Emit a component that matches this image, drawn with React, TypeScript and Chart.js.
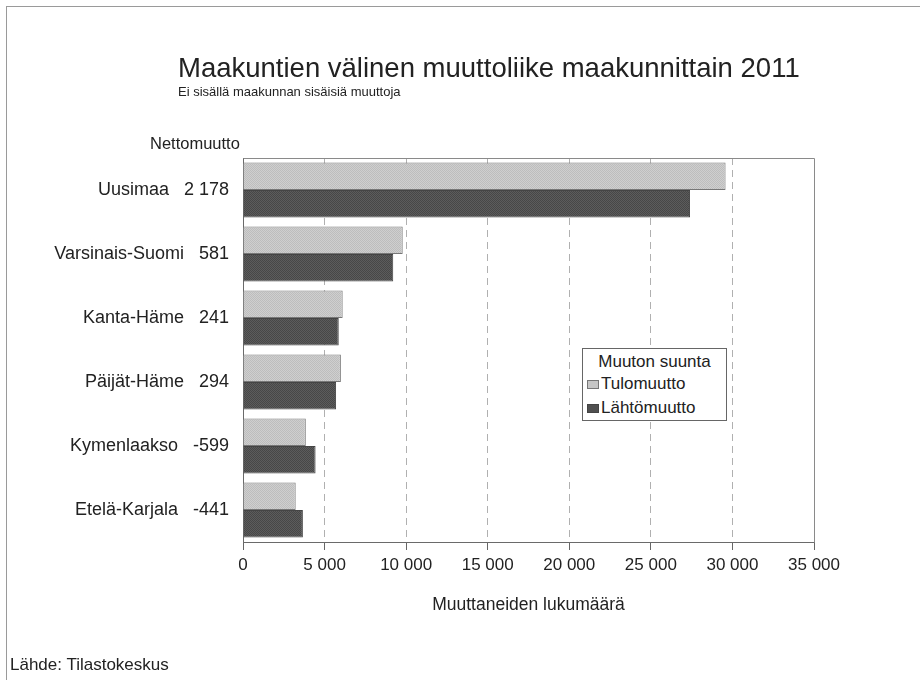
import React, { useEffect, useRef } from "react";
import { Chart, registerables } from "chart.js";

Chart.register(...registerables);

const categories = ["Uusimaa", "Varsinais-Suomi", "Kanta-Häme", "Päijät-Häme", "Kymenlaakso", "Etelä-Karjala"];
const netMigration = [2178, 581, 241, 294, -599, -441];
const inMigration = [29580, 9790, 6110, 6000, 3850, 3230];
const outMigration = [27402, 9209, 5869, 5706, 4449, 3671];
const seriesNames = ["Tulomuutto", "Lähtömuutto"];
const xMax = 35000;
const xStep = 5000;

const FONT = '"Liberation Sans", Arial, Helvetica, sans-serif';
const LIGHT = ["#cfcfcf", "#bdbdbd"];
const DARK = ["#5c5c5c", "#474747"];

function fmt(n: number): string {
  const s = Math.abs(n).toString().replace(/\B(?=(\d{3})+(?!\d))/g, " ");
  return (n < 0 ? "-" : "") + s;
}

function makePattern(colors: string[]): CanvasPattern | string {
  const c = document.createElement("canvas");
  c.width = 2;
  c.height = 2;
  const g = c.getContext("2d");
  if (!g) return colors[0];
  g.fillStyle = colors[0];
  g.fillRect(0, 0, 2, 2);
  g.fillStyle = colors[1];
  g.fillRect(0, 0, 1, 1);
  g.fillRect(1, 1, 1, 1);
  const p = g.createPattern(c, "repeat");
  return p || colors[0];
}

const frameBorder = {
  id: "frameBorder",
  afterDraw(chart: any) {
    const { ctx, chartArea } = chart;
    ctx.save();
    ctx.strokeStyle = "#8a8a8a";
    ctx.lineWidth = 1;
    ctx.beginPath();
    ctx.moveTo(Math.round(chartArea.left) + 0.5, Math.round(chartArea.top) + 0.5);
    ctx.lineTo(Math.round(chartArea.right) + 0.5, Math.round(chartArea.top) + 0.5);
    ctx.lineTo(Math.round(chartArea.right) + 0.5, Math.round(chartArea.bottom) + 0.5);
    ctx.stroke();
    ctx.restore();
  },
};

export default function App() {
  const ref = useRef<HTMLCanvasElement | null>(null);

  useEffect(() => {
    if (!ref.current) return;
    Chart.defaults.font.family = FONT;
    const labels = categories.map((c, i) => c + "   " + fmt(netMigration[i]));
    const chart = new Chart(ref.current, {
      type: "bar",
      data: {
        labels,
        datasets: [
          {
            label: seriesNames[0],
            data: inMigration,
            backgroundColor: makePattern(LIGHT) as any,
            borderColor: "#777777",
            borderWidth: 1,
            categoryPercentage: 0.86,
            barPercentage: 1,
          },
          {
            label: seriesNames[1],
            data: outMigration,
            backgroundColor: makePattern(DARK) as any,
            borderColor: "#444444",
            borderWidth: 1,
            categoryPercentage: 0.86,
            barPercentage: 1,
          },
        ],
      },
      options: {
        indexAxis: "y",
        animation: false,
        responsive: false,
        maintainAspectRatio: false,
        layout: { padding: { top: 158, right: 106, bottom: 98, left: 0 } },
        plugins: {
          legend: { display: false },
          title: { display: false },
          tooltip: { enabled: false },
        },
        scales: {
          x: {
            min: 0,
            max: xMax,
            afterFit: (s: any) => {
              s.height = 40;
            },
            ticks: {
              stepSize: xStep,
              padding: 5,
              color: "#222",
              font: { size: 17, family: FONT },
              callback: (v: any) => fmt(Number(v)),
            },
            grid: {
              display: true,
              drawOnChartArea: true,
              drawTicks: true,
              tickLength: 8,
              tickColor: "#666",
              tickBorderDash: [],
              color: (ctx: any) =>
                ctx.tick && (ctx.tick.value === 0 || ctx.tick.value === xMax) ? "rgba(0,0,0,0)" : "#b0b0b0",
              lineWidth: 1,
            } as any,
            border: { display: true, color: "#6a6a6a", width: 1, dash: [7, 5] },
          },
          y: {
            afterFit: (s: any) => {
              s.width = 243;
            },
            ticks: {
              padding: 14,
              color: "#222",
              font: { size: 18, family: FONT },
            },
            grid: { display: false, drawTicks: false },
            border: { display: true, color: "#6a6a6a", width: 1 },
          },
        },
      },
      plugins: [frameBorder],
    });
    return () => chart.destroy();
  }, []);

  const txt: React.CSSProperties = {
    position: "absolute",
    fontFamily: FONT,
    color: "#222",
    whiteSpace: "nowrap",
    lineHeight: 1,
    margin: 0,
  };

  return (
    <div style={{ position: "fixed", left: 0, top: 0, width: 920, height: 680, background: "#fff", overflow: "hidden" }}>
      <div
        style={{
          position: "absolute",
          left: 6,
          top: 6,
          width: 920,
          height: 680,
          borderTop: "1px solid #9a9a9a",
          borderLeft: "1px solid #9a9a9a",
        }}
      />
      <canvas ref={ref} width={920} height={680} style={{ position: "absolute", left: 0, top: 0, width: 920, height: 680 }} />
      <div style={{ ...txt, left: 178, top: 54, fontSize: 27.5 }}>Maakuntien välinen muuttoliike maakunnittain 2011</div>
      <div style={{ ...txt, left: 178, top: 85, fontSize: 13 }}>Ei sisällä maakunnan sisäisiä muuttoja</div>
      <div style={{ ...txt, left: 150, top: 135, fontSize: 16.5 }}>Nettomuutto</div>
      <div style={{ ...txt, left: 243, width: 571, top: 596, fontSize: 17.5, textAlign: "center" }}>Muuttaneiden lukumäärä</div>
      <div style={{ ...txt, left: 10, top: 656, fontSize: 17 }}>Lähde: Tilastokeskus</div>
      <div
        style={{
          position: "absolute",
          left: 582,
          top: 348,
          width: 143,
          height: 71,
          border: "1px solid #666",
          background: "#fff",
          fontFamily: FONT,
          color: "#222",
          fontSize: 17,
        }}
      >
        <div style={{ position: "absolute", left: 0, right: 0, top: 4, textAlign: "center", lineHeight: 1 }}>Muuton suunta</div>
        {seriesNames.map((n, i) => (
          <div key={n} style={{ position: "absolute", left: 4, top: 26 + i * 24, lineHeight: 1, whiteSpace: "nowrap" }}>
            <span
              style={{
                display: "inline-block",
                width: 12,
                height: 9,
                marginRight: 2,
                background: i === 0 ? "#c6c6c6" : "#505050",
                border: i === 0 ? "1px solid #777" : "1px solid #444",
                boxSizing: "border-box",
              }}
            />
            {n}
          </div>
        ))}
      </div>
    </div>
  );
}
